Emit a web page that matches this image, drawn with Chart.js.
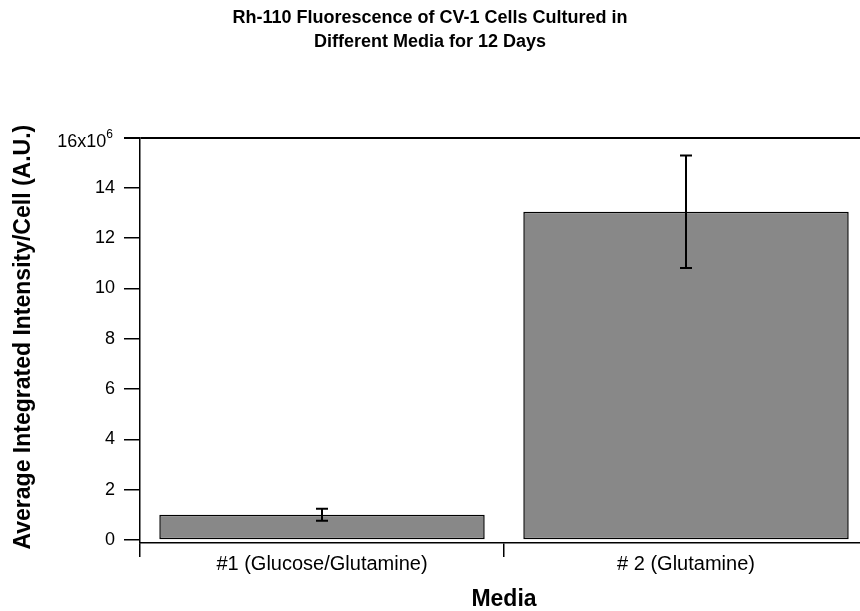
<!DOCTYPE html>
<html lang="en">
<head>
  <meta charset="UTF-8">
  <title>Rh-110 Fluorescence of CV-1 Cells</title>
  <script src="https://cdn.jsdelivr.net/npm/chart.js"></script>
  <style>
    html, body {
      margin: 0;
      padding: 0;
      background: #ffffff;
      overflow: hidden;
    }
    .chart-container {
      width: 860px;
      height: 611px;
      position: relative;
    }
  </style>
</head>
<body>

  <div class="chart-container">
    <canvas id="mediaChart"></canvas>
  </div>

  <script>
    // Media groups and their mean Rh-110 intensity per cell (with error)
    const categories = ['#1 (Glucose/Glutamine)', '# 2 (Glutamine)'];
    const meanIntensity = [1.0e6, 13.05e6];
    const errorIntensity = [0.24e6, 2.24e6];

    const yTickValues = [0, 2e6, 4e6, 6e6, 8e6, 10e6, 12e6, 14e6, 16e6];
    const yTickLabels = ['0', '2', '4', '6', '8', '10', '12', '14', '16x10'];
    const yTopExponent = '6';

    const FONT = "'Liberation Sans', Arial, Helvetica, sans-serif";
    const Y_TICK_LEN = 16;
    const Y_TICK_PAD = 9;

    // vertical error bars with flat caps
    const errorBarPlugin = {
      id: 'errorBars',
      afterDatasetsDraw(chart) {
        const ctx = chart.ctx;
        const yScale = chart.scales.y;
        const meta = chart.getDatasetMeta(0);
        ctx.save();
        ctx.strokeStyle = '#000';
        ctx.lineWidth = 2;
        meta.data.forEach((bar, i) => {
          const x = bar.x;
          const top = yScale.getPixelForValue(meanIntensity[i] + errorIntensity[i]);
          const bottom = yScale.getPixelForValue(meanIntensity[i] - errorIntensity[i]);
          ctx.beginPath();
          ctx.moveTo(x, top);
          ctx.lineTo(x, bottom);
          ctx.moveTo(x - 6, top);
          ctx.lineTo(x + 6, top);
          ctx.moveTo(x - 6, bottom);
          ctx.lineTo(x + 6, bottom);
          ctx.stroke();
        });
        ctx.restore();
      }
    };

    // the category axis runs a little past the right edge of the canvas
    const extendAxisPlugin = {
      id: 'extendAxis',
      afterLayout(chart) {
        const x = chart.scales.x;
        x.right += 8;
        x.width += 8;
        x.configure();
      }
    };

    // top y label carries the x10^6 multiplier with a raised exponent
    const topLabelPlugin = {
      id: 'topLabel',
      afterDraw(chart) {
        const ctx = chart.ctx;
        const yScale = chart.scales.y;
        const last = yTickValues.length - 1;
        const y = yScale.getPixelForValue(yTickValues[last]);
        const xRight = yScale.right - Y_TICK_LEN - Y_TICK_PAD - 2;
        ctx.save();
        ctx.fillStyle = '#000';
        ctx.textAlign = 'right';
        ctx.textBaseline = 'middle';
        ctx.font = '12px ' + FONT;
        const expW = ctx.measureText(yTopExponent).width;
        ctx.fillText(yTopExponent, xRight, y - 3);
        ctx.font = '18px ' + FONT;
        ctx.fillText(yTickLabels[last], xRight - expW, y + 4);
        ctx.restore();
      }
    };

    const ctx = document.getElementById('mediaChart').getContext('2d');
    new Chart(ctx, {
      type: 'bar',
      data: {
        labels: categories,
        datasets: [{
          data: meanIntensity,
          backgroundColor: '#888888',
          borderColor: '#000000',
          borderWidth: 1.5,
          borderSkipped: false,
          barPercentage: 0.894,
          categoryPercentage: 1.0
        }]
      },
      options: {
        responsive: true,
        maintainAspectRatio: false,
        animation: false,
        layout: {
          padding: { left: 0, right: 0, top: 0, bottom: 0 }
        },
        scales: {
          x: {
            grid: {
              offset: true,
              drawOnChartArea: false,
              color: '#000',
              tickColor: '#000',
              tickLength: 14,
              lineWidth: 1.5
            },
            border: { display: true, color: '#000', width: 1.5 },
            ticks: {
              color: '#000',
              font: { family: FONT, size: 20, lineHeight: 1.0 },
              padding: -3
            },
            title: {
              display: true,
              text: 'Media',
              color: '#000',
              font: { family: FONT, size: 23, weight: 'bold', lineHeight: 1.0 },
              padding: { top: 17, bottom: 0 }
            }
          },
          y: {
            min: -0.12e6,
            max: 16e6,
            afterBuildTicks(scale) {
              scale.ticks = yTickValues.map(v => ({ value: v }));
            },
            afterFit(scale) {
              scale.width = 140;
            },
            grid: {
              color: c => (c.tick && c.tick.value === 16e6) ? '#000' : 'rgba(0,0,0,0)',
              tickColor: '#000',
              tickLength: Y_TICK_LEN,
              lineWidth: c => (c.tick && c.tick.value === 16e6) ? 2 : 1.5
            },
            border: { display: true, color: '#000', width: 1.5 },
            ticks: {
              color: c => (c.tick && c.tick.value === 16e6) ? 'rgba(0,0,0,0)' : '#000',
              font: { family: FONT, size: 18 },
              padding: Y_TICK_PAD,
              callback: (value, index) => yTickLabels[index]
            },
            title: {
              display: true,
              text: ' Average Integrated Intensity/Cell (A.U.)',
              color: '#000',
              font: { family: FONT, size: 23, weight: 'bold', lineHeight: 1.0 },
              padding: { top: 12, bottom: 21 }
            }
          }
        },
        plugins: {
          legend: { display: false },
          tooltip: { enabled: false },
          title: {
            display: true,
            text: ['Rh-110 Fluorescence of CV-1 Cells Cultured in', 'Different Media for 12 Days'],
            color: '#000',
            font: { family: FONT, size: 18, weight: 'bold', lineHeight: 1.35 },
            padding: { top: 6, bottom: 83 }
          }
        }
      },
      plugins: [errorBarPlugin, extendAxisPlugin, topLabelPlugin]
    });
  </script>

</body>
</html>
